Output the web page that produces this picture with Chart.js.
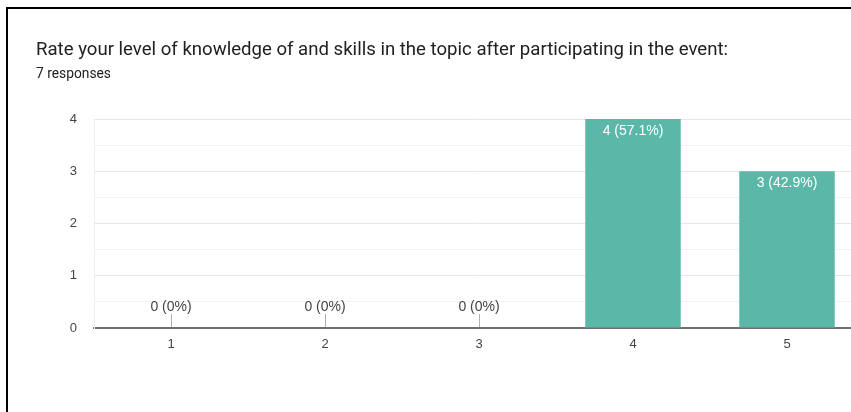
<!DOCTYPE html>
<html>
<head>
<meta charset="utf-8">
<script src="https://cdn.jsdelivr.net/npm/chart.js@4/dist/chart.umd.min.js"></script>
<style>
  html, body {
    margin: 0;
    padding: 0;
    width: 851px;
    height: 412px;
    overflow: hidden;
    background: #fff;
    font-family: Roboto, Arial, sans-serif;
  }
  .frame {
    position: absolute;
    left: 6px;
    top: 7px;
    width: 900px;
    height: 420px;
    border-left: 2px solid #000;
    border-top: 2px solid #000;
  }
  .title {
    position: absolute;
    left: 36px;
    top: 38px;
    font-size: 18.6px;
    color: #202124;
    white-space: nowrap;
  }
  .subtitle {
    position: absolute;
    left: 36px;
    top: 65px;
    font-size: 13.8px;
    color: #202124;
  }
  .chart-box {
    position: absolute;
    left: 0;
    top: 0;
    width: 900px;
    height: 412px;
  }
</style>
</head>
<body>
<div class="frame"></div>
<div class="chart-box"><canvas id="ratingChart"></canvas></div>
<div class="title">Rate your level of knowledge of and skills in the topic after participating in the event:</div>
<div class="subtitle">7 responses</div>

<script>
// Ratings and response counts
const ratings = ['1', '2', '3', '4', '5'];
const counts = [0, 0, 0, 4, 3];
const yTicks = [0, 1, 2, 3, 4];

const totalResponses = counts.reduce((a, b) => a + b, 0);
const labelFont = '"Liberation Sans", Arial, sans-serif';

function formatLabel(value) {
    const pct = totalResponses ? (value / totalResponses) * 100 : 0;
    const pctText = value === 0 ? '0' : pct.toFixed(1);
    return `${value} (${pctText}%)`;
}

// Draws "n (x%)" labels: inside the top of a bar, or above the axis with a small stem when empty
const barLabels = {
    id: 'barLabels',
    afterDatasetsDraw(chart) {
        const ctx = chart.ctx;
        const meta = chart.getDatasetMeta(0);
        const yScale = chart.scales.y;
        const base = yScale.getPixelForValue(0);
        ctx.save();
        ctx.font = '14px ' + labelFont;
        ctx.textAlign = 'center';
        ctx.textBaseline = 'middle';
        meta.data.forEach((bar, i) => {
            const value = counts[i];
            const text = formatLabel(value);
            if (value > 0) {
                ctx.fillStyle = '#ffffff';
                ctx.fillText(text, bar.x, bar.y + 12);
            } else {
                ctx.strokeStyle = '#b0b0b0';
                ctx.lineWidth = 1;
                ctx.beginPath();
                ctx.moveTo(Math.round(bar.x) + 0.5, base - 1);
                ctx.lineTo(Math.round(bar.x) + 0.5, base - 14);
                ctx.stroke();
                ctx.fillStyle = '#444444';
                ctx.fillText(text, bar.x, base - 21);
            }
        });
        ctx.restore();
    }
};

const ctx = document.getElementById('ratingChart').getContext('2d');

new Chart(ctx, {
    type: 'bar',
    data: {
        labels: ratings,
        datasets: [{
            data: counts,
            backgroundColor: '#5bb7a7',
            borderWidth: 0,
            categoryPercentage: 1,
            barPercentage: 0.62
        }]
    },
    options: {
        responsive: true,
        maintainAspectRatio: false,
        animation: false,
        layout: {
            padding: { top: 119, right: 36, bottom: 54, left: 0 }
        },
        plugins: {
            legend: { display: false },
            tooltip: { enabled: false }
        },
        scales: {
            x: {
                grid: { display: false, drawTicks: false },
                border: { display: true, color: '#6f6f6f', width: 2 },
                ticks: {
                    color: '#444',
                    padding: 9,
                    font: { family: labelFont, size: 13 }
                },
                afterFit(scale) {
                    scale.height = 30;
                }
            },
            y: {
                min: yTicks[0],
                max: yTicks[yTicks.length - 1],
                ticks: {
                    stepSize: 0.5,
                    color: '#444',
                    padding: 17,
                    font: { family: labelFont, size: 13 },
                    callback: value => (yTicks.includes(value) ? value : '')
                },
                grid: {
                    drawTicks: false,
                    color: c => (Number.isInteger(c.tick.value) ? '#e6e6e6' : '#f3f3f3'),
                    lineWidth: 1
                },
                border: { display: true, color: '#eeeeee', width: 1 },
                afterFit(scale) {
                    scale.width = 94;
                }
            }
        }
    },
    plugins: [barLabels]
});
</script>
</body>
</html>
